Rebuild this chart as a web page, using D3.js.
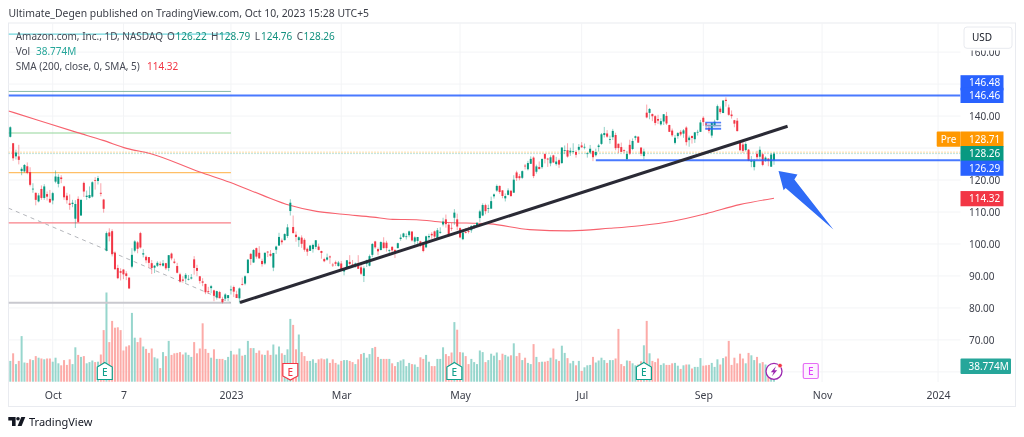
<!DOCTYPE html>
<html>
<head>
<meta charset="utf-8">
<script src="https://cdn.jsdelivr.net/npm/d3@7"></script>
<style>
  html, body { margin: 0; padding: 0; background: #fff; overflow: hidden; }
  svg { display: block; font-family: "Noto Sans", sans-serif; filter: blur(0.3px); }
</style>
</head>
<body>
<svg id="chart" width="1024" height="437"></svg>
<script>
// daily AMZN bars, 2022-09-12 to 2023-10-09
const opens = [
  133.5,131.5,127.4,127.4,122.8,122.7,124.3,122.5,117.1,116.0,
  113.3,117.2,114.4,115.6,114.1,113.6,119.5,118.8,120.8,118.0,
  115.1,112.7,112.5,107.9,114.1,108.9,119.1,114.7,114.4,114.8,
  120.0,119.7,116.0,113.9,97.9,103.6,104.0,97.3,92.5,91.5,
  92.0,90.8,89.5,92.9,97.9,100.5,103.4,96.7,96.0,95.9,
  94.0,92.6,93.2,93.8,93.2,94.0,92.5,97.0,94.5,93.1,
  90.5,88.9,89.2,88.9,89.2,95.2,92.5,89.9,88.3,87.5,
  85.3,86.2,85.5,83.25,84.97,82.8,82.9,83.1,85.5,86.55,
  84.3,83.0,87.5,87.6,90.9,96.9,94.2,98.7,97.25,94.7,
  93.9,97.6,96.9,92.6,98.2,99.5,101.1,101.2,102.5,110.3,
  105.3,102.9,101.2,102.0,101.3,98.5,97.85,98.4,99.1,99.2,
  97.8,95.3,95.1,96.1,93.55,94.3,93.1,93.9,91.4,92.7,
  94.4,93.6,93.6,93.7,92.7,90.0,93.8,93.2,96.6,100.8,
  98.4,98.1,100.45,100.4,98.07,99.1,98.1,98.7,101.55,102.2,
  102.3,102.75,103.9,100.75,100.96,100.8,100.4,98.95,102.07,103.16,
  103.95,101.6,103.5,106.1,107.7,106.05,105.04,108.2,107.7,104.95,
  101.5,103.74,104.04,104.27,105.04,105.6,108.1,108.9,112.16,111.15,
  111.05,114.9,116.7,118.16,116.77,114.27,115.35,116.63,116.04,122.37,
  121.2,120.69,124.5,123.36,125.07,127.01,122.58,124.08,124.02,128.12,
  126.7,125.21,127.71,124.97,126.21,125.31,129.11,129.33,128.63,128.94,
  128.77,129.47,130.82,130.24,128.25,128.59,129.07,127.75,130.31,131.3,
  134.06,134.56,132.71,133.39,134.07,131.34,130.31,129.31,126.51,131.0,
  129.69,133.2,133.55,130.15,127.48,141.06,140.99,140.62,139.97,139.07,
  137.4,138.3,140.05,137.19,135.46,131.62,133.74,135.08,134.5,136.4,
  132.47,133.78,132.76,134.93,135.06,139.46,137.73,136.32,133.9,136.86,
  138.75,142.32,140.95,145.08,142.69,140.48,138.7,138.55,131.94,131.11,
  129.36,129.5,125.76,124.04,128.2,127.28,128.06,126.06,126.71,124.16,126.22
];
const highs = [
  136.8,131.6,129.5,131.0,124.0,125.0,125.5,124.0,119.0,116.1,
  115.9,118.3,118.7,116.4,116.9,116.3,123.0,121.8,121.5,118.2,
  116.0,115.5,113.8,113.7,114.9,113.9,119.5,116.7,118.0,119.6,
  120.9,121.3,119.0,114.1,103.9,104.9,104.6,97.7,93.5,92.4,
  92.1,91.5,89.5,98.7,101.2,100.9,103.8,98.4,96.4,95.9,
  95.0,93.4,94.6,94.5,95.0,94.1,96.5,97.3,95.4,94.1,
  91.0,89.9,90.9,90.3,90.6,96.2,93.5,90.0,89.3,87.6,
  86.6,87.2,85.7,85.4,85.35,83.5,84.6,84.05,86.96,86.98,
  85.4,86.4,89.5,90.2,95.3,97.2,98.4,98.9,99.3,95.4,
  97.3,97.8,98.1,97.2,99.5,103.5,101.7,103.35,106.2,114.0,
  108.9,103.9,102.4,102.7,101.8,98.9,99.7,100.1,101.2,100.1,
  97.9,95.7,97.0,96.4,94.1,94.8,94.7,94.7,92.2,95.0,
  96.5,95.0,94.2,96.5,93.6,93.0,95.1,96.7,100.3,101.0,
  98.9,100.85,102.1,101.0,98.3,99.3,98.4,100.4,103.0,103.5,
  103.3,104.2,103.9,102.4,102.2,101.0,100.5,102.6,103.2,103.7,
  104.2,105.0,105.2,108.2,109.2,106.6,106.6,110.9,109.5,105.2,
  103.9,105.0,105.4,105.8,106.0,106.8,110.7,112.7,112.6,112.3,
  114.8,115.8,118.6,118.3,116.8,115.8,117.4,116.9,121.5,122.9,
  121.9,123.0,125.0,126.0,127.4,127.4,124.8,125.8,126.8,128.4,
  126.95,127.7,127.9,127.25,126.7,130.3,130.8,131.5,130.1,131.5,
  129.3,131.25,131.85,131.4,128.7,130.97,129.3,129.8,131.3,134.7,
  136.6,135.6,133.9,135.99,134.8,131.4,131.7,129.6,129.1,132.6,
  133.0,133.9,133.7,130.2,129.8,143.6,142.5,140.8,140.3,140.4,
  139.3,140.6,141.3,137.3,136.1,134.1,135.0,135.65,135.95,136.8,
  133.9,133.9,135.0,135.7,138.8,139.96,137.8,137.45,138.0,138.85,
  143.6,143.0,144.98,145.86,143.6,141.75,138.8,139.4,132.2,132.0,
  131.8,129.7,127.5,126.6,129.15,130.5,128.5,127.4,126.75,128.45,128.79
];
const lows = [
  133.3,126.0,126.4,124.9,121.5,122.3,121.8,118.0,116.0,112.1,
  113.0,113.8,113.8,113.6,112.8,112.4,119.0,117.7,119.0,113.8,
  112.6,110.7,111.5,105.0,106.6,108.8,114.7,113.8,114.2,114.5,
  117.0,118.6,114.9,109.8,97.7,100.8,96.1,92.0,89.0,88.6,
  89.0,88.7,85.9,92.4,97.4,97.1,98.6,95.8,94.0,92.5,
  90.6,90.9,92.8,93.0,92.9,91.9,91.5,94.9,93.8,90.8,
  87.9,87.9,87.9,88.6,88.9,90.4,89.9,87.6,86.8,84.3,
  84.4,84.6,82.1,82.6,83.0,81.4,82.4,82.1,84.2,83.4,
  83.1,81.4,87.0,87.1,90.8,93.4,94.1,95.4,95.4,92.9,
  93.5,95.9,96.0,91.5,96.9,99.5,99.8,101.1,101.9,108.9,
  103.3,100.7,99.1,98.8,97.6,96.3,97.8,97.3,98.4,98.0,
  95.4,94.3,94.8,93.8,92.8,93.1,92.9,91.7,90.2,92.3,
  93.4,92.8,92.6,92.2,90.3,88.1,92.8,93.0,95.9,98.5,
  96.5,98.0,98.6,97.6,96.3,97.2,95.6,98.6,101.0,101.9,
  101.4,102.1,100.75,99.8,99.6,99.0,97.4,98.7,101.1,101.6,
  101.5,101.5,103.2,105.5,105.1,102.2,104.1,106.0,104.3,101.8,
  101.2,103.3,103.3,103.5,104.7,105.6,106.8,108.7,109.3,109.7,
  111.0,114.2,116.3,115.7,114.3,113.3,115.2,114.7,116.0,119.7,
  119.9,120.3,123.3,123.0,125.0,120.6,122.0,123.3,123.5,125.2,
  124.1,124.3,125.3,124.5,123.8,125.0,128.1,127.0,127.55,128.4,
  127.0,128.95,130.1,129.6,127.0,128.1,125.9,127.35,128.9,131.0,
  133.3,133.2,131.35,132.5,129.3,128.4,128.8,128.5,126.1,127.8,
  129.3,132.4,131.6,127.5,126.4,139.3,139.0,138.4,137.1,137.5,
  137.0,137.2,137.2,135.0,133.5,131.15,132.9,133.7,133.2,130.8,
  130.4,131.4,131.6,133.9,135.0,136.9,135.8,134.6,133.2,136.8,
  138.6,140.6,140.9,142.95,140.1,139.2,136.5,135.2,129.0,128.5,
  128.9,125.9,124.0,123.0,126.3,126.5,124.3,125.7,124.3,124.1,124.76
];
const closes = [
  136.5,126.8,128.6,126.3,123.5,124.7,122.2,118.5,117.3,113.8,
  115.2,114.4,118.0,114.8,113.0,115.9,121.1,121.0,120.3,114.6,
  113.7,112.2,112.9,112.5,106.9,113.8,116.4,115.1,115.3,119.3,
  119.8,120.6,115.7,111.0,103.4,102.4,96.8,92.1,89.3,91.0,
  90.5,90.0,86.1,96.6,100.8,98.5,98.9,97.1,94.9,94.1,
  92.5,93.2,94.1,93.4,93.95,92.4,96.5,95.5,94.1,91.0,
  88.3,88.5,90.35,89.1,89.55,92.5,91.6,88.45,87.9,84.9,
  85.2,86.8,83.8,85.25,83.04,81.8,84.2,84.0,85.8,85.1,
  83.1,86.1,87.4,89.9,95.1,95.3,98.1,96.05,95.5,93.7,
  97.25,97.5,96.3,97.2,99.2,102.2,100.55,103.1,105.2,112.9,
  103.4,102.2,102.1,100.05,98.2,97.6,99.5,99.7,101.16,98.15,
  97.2,94.6,95.8,95.8,93.5,93.8,94.2,92.2,92.1,94.9,
  93.75,93.55,93.9,92.25,90.7,92.4,94.9,96.2,100.0,98.95,
  97.7,100.6,98.7,98.7,98.13,98.0,97.2,100.25,102.0,103.3,
  102.4,103.95,101.1,102.06,102.17,99.9,97.8,102.4,102.5,102.7,
  102.3,104.3,103.8,107.0,106.2,102.6,104.98,109.8,105.45,102.05,
  103.6,103.65,104.0,105.66,105.83,106.62,110.19,112.18,110.26,111.2,
  113.4,115.5,118.15,116.25,115.01,114.99,116.75,115.0,120.11,120.6,
  120.58,122.77,124.25,125.3,126.61,121.23,124.25,123.43,126.57,126.66,
  126.42,127.11,125.49,125.78,124.83,130.15,129.33,127.33,129.18,129.04,
  127.9,130.36,130.22,130.38,128.36,129.78,127.13,128.78,130.8,134.3,
  134.68,133.56,132.83,135.36,129.96,130.0,128.8,129.13,128.15,128.25,
  132.21,133.68,131.69,128.21,128.91,139.57,142.22,139.94,137.85,138.56,
  138.41,140.57,137.67,135.07,133.98,133.22,134.68,134.25,135.52,131.84,
  133.26,133.14,134.91,135.07,138.01,138.12,137.27,135.36,137.85,138.23,
  143.1,141.23,144.85,144.72,140.39,139.98,137.63,135.29,129.33,129.12,
  131.27,125.98,125.98,125.98,127.12,129.46,124.72,127.0,125.96,127.96,128.26
];
// volume in millions
const volumes = [
  52,71,44,52,114,48,47,56,54,64,
  60,58,56,58,58,50,60,46,41,54,
  42,56,44,86,67,62,64,46,49,53,
  49,50,68,129,223,99,152,135,136,129,
  78,88,91,172,110,99,110,88,82,72,
  83,61,58,34,74,64,102,67,71,72,
  74,68,73,67,62,99,71,83,146,82,
  72,60,81,57,57,57,54,62,77,68,
  68,83,65,67,102,84,84,72,78,68,
  67,78,67,93,68,88,71,67,81,157,
  142,81,118,74,64,52,52,56,47,56,
  58,56,58,47,56,47,43,52,54,54,
  52,49,44,56,69,72,60,69,84,87,
  62,57,57,57,57,46,39,49,53,56,
  39,47,44,43,37,61,57,67,50,39,
  39,57,57,86,69,64,73,149,130,74,
  73,64,44,57,49,44,78,74,49,54,
  70,65,73,54,70,67,63,66,96,64,
  72,54,60,47,44,94,62,49,50,50,
  52,60,83,56,52,90,72,59,46,52,
  41,52,27,36,41,42,62,48,53,60,
  54,47,54,54,58,132,44,39,53,52,
  46,41,43,51,91,152,71,52,49,58,
  42,46,42,42,46,47,40,32,41,43,
  43,33,37,37,59,40,41,42,47,37,
  56,43,59,63,102,42,60,46,70,58,
  46,72,66,54,62,46,49,43,39,40,38.774
];

// time axis, positions are bar numbers (the last two are in the future)
const timeTicks = [15, 40, 78, 117, 159, 202, 245, 287, 328];
const timeLabels = ["Oct", "7", "2023", "Mar", "May", "Jul", "Sep", "Nov", "2024"];
const priceTicks = [60, 70, 80, 90, 100, 110, 120, 130, 140, 150, 160];
const priceAxisShown = [70, 80, 90, 100, 110, 120, 140, 160];

// 200 day average, read as anchor points: bar number and price
const smaBars = [-0.6,9.8,23.5,32.8,41.1,49.4,67,77.6,89.3,98.8,108.3,117.6,128.2,135.2,143.6,152.9,169.5,183.6,197.8,211.9,222.5,234.2,246.1,257.8,270];
const smaPrices = [141.6,138.7,134.9,132.4,129.9,128.3,122.5,119.3,115.2,112.1,110.2,109.3,108.4,107.7,107.6,106.8,106.3,104.5,104.1,104.9,105.7,107.1,109.5,112.3,114.32];

// drawn levels that stop at the start of 2023
const shortLevels = [165.6, 147.7, 134.7, 122.3, 106.6, 81.6];
const shortLevelColors = ["#6fd6dc", "#86b8a8", "#93d59a", "#ffbf66", "#f98088", "#c9c9cf"];
const shortLevelWidths = [1.2, 1, 1.2, 1.4, 1.3, 2];

const earningsBars = [33.4, 99, 157, 224];
const earningsBeat = [true, false, true, true];

const arrowBars = [271.6, 278.3, 277.2, 291.0, 274.1, 273.4];
const arrowPrices = [122.8, 121.7, 120.2, 104.5, 117.5, 116.8];

const bars = closes.map((c, i) => ({
  i, o: opens[i], h: highs[i], l: lows[i], c, v: volumes[i], up: c >= opens[i],
}));

const GREEN = "#089981", RED = "#f23645", BLUE = "#2962ff", ORANGE = "#ff9800";
const chartLeft = 8.5, chartRight = 960.5, chartTop = 23, chartBottom = 382;

const x = d3.scaleLinear().domain([0, 270]).range([10.3, 774]);
const y = d3.scaleLinear().domain([60, 160]).range([371.9, 52.1]);
const yVol = d3.scaleLinear().domain([0, 223]).range([381.7, 292.5]);

const svg = d3.select("#chart");

svg.append("clipPath").attr("id", "plot")
  .append("rect")
  .attr("x", chartLeft).attr("y", chartTop)
  .attr("width", chartRight - chartLeft).attr("height", chartBottom - chartTop);

// outer frame
svg.append("rect")
  .attr("x", chartLeft).attr("y", chartTop)
  .attr("width", 1015.5 - chartLeft).attr("height", 406.5 - chartTop)
  .attr("fill", "none").attr("stroke", "#e9ebf0");

// grid
const grid = svg.append("g").attr("stroke", "#f3f4f6");
grid.selectAll("line.h").data(priceTicks).enter().append("line")
  .attr("x1", chartLeft).attr("x2", chartRight)
  .attr("y1", (d) => y(d)).attr("y2", (d) => y(d));
grid.selectAll("line.v").data(timeTicks).enter().append("line")
  .attr("x1", (d) => x(d)).attr("x2", (d) => x(d))
  .attr("y1", chartTop).attr("y2", chartBottom);

const plot = svg.append("g").attr("clip-path", "url(#plot)");

// volume
plot.append("g").selectAll("rect").data(bars).enter().append("rect")
  .attr("x", (d) => x(d.i) - 1)
  .attr("width", 2)
  .attr("y", (d) => yVol(d.v))
  .attr("height", (d) => yVol(0) - yVol(d.v))
  .attr("fill", (d) => (d.up ? "#97d6cd" : "#fcaba8"));

// short levels
plot.append("g").selectAll("line").data(shortLevels).enter().append("line")
  .attr("x1", chartLeft).attr("x2", x(78))
  .attr("y1", (d) => y(d)).attr("y2", (d) => y(d))
  .attr("stroke", (d, i) => shortLevelColors[i])
  .attr("stroke-width", (d, i) => shortLevelWidths[i]);

// dashed fall line
plot.append("line")
  .attr("x1", chartLeft).attr("y1", y(111.2))
  .attr("x2", x(78)).attr("y2", y(81.6))
  .attr("stroke", "#b4b6bb").attr("stroke-dasharray", "4 4");

// last price lines
plot.append("line")
  .attr("x1", chartLeft).attr("x2", chartRight)
  .attr("y1", y(128.71)).attr("y2", y(128.71))
  .attr("stroke", "#ffb84d").attr("stroke-dasharray", "1 2");
plot.append("line")
  .attr("x1", chartLeft).attr("x2", chartRight)
  .attr("y1", y(128.26)).attr("y2", y(128.26))
  .attr("stroke", "#7fc7b8").attr("stroke-dasharray", "1 2");

// sma
plot.append("path")
  .datum(smaBars.map((b, i) => [b, smaPrices[i]]))
  .attr("fill", "none")
  .attr("stroke", "#f7626e")
  .attr("stroke-width", 1.1)
  .attr("d", d3.line().x((d) => x(d[0])).y((d) => y(d[1])).curve(d3.curveMonotoneX));

// candles
const candles = plot.append("g").selectAll("g").data(bars).enter().append("g")
  .attr("fill", (d) => (d.up ? GREEN : RED))
  .attr("stroke", (d) => (d.up ? GREEN : RED));
candles.append("line")
  .attr("x1", (d) => x(d.i)).attr("x2", (d) => x(d.i))
  .attr("y1", (d) => y(d.h)).attr("y2", (d) => y(d.l))
  .attr("stroke-width", 0.6)
  .attr("stroke-opacity", 0.75);
candles.append("rect")
  .attr("x", (d) => x(d.i) - 1)
  .attr("width", 2)
  .attr("y", (d) => y(Math.max(d.o, d.c)))
  .attr("height", (d) => Math.max(0.8, Math.abs(y(d.o) - y(d.c))))
  .attr("stroke", "none");

// blue levels and the little fib box near the top
plot.append("line")
  .attr("x1", chartLeft).attr("x2", chartRight)
  .attr("y1", y(146.46)).attr("y2", y(146.46))
  .attr("stroke", BLUE).attr("stroke-opacity", 0.85).attr("stroke-width", 2);
plot.append("line")
  .attr("x1", x(207)).attr("x2", chartRight)
  .attr("y1", y(126.15)).attr("y2", y(126.15))
  .attr("stroke", BLUE).attr("stroke-opacity", 0.85).attr("stroke-width", 2);
[138, 136].forEach((p) => {
  plot.append("line")
    .attr("x1", x(245.7)).attr("x2", x(251.3))
    .attr("y1", y(p)).attr("y2", y(p))
    .attr("stroke", BLUE).attr("stroke-opacity", 0.8).attr("stroke-width", 1.6);
});
plot.append("rect")
  .attr("x", x(245.7)).attr("width", x(251.3) - x(245.7))
  .attr("y", y(138)).attr("height", y(136) - y(138))
  .attr("fill", BLUE).attr("fill-opacity", 0.18);
plot.append("line")
  .attr("x1", x(245.7)).attr("x2", x(251.3))
  .attr("y1", y(137)).attr("y2", y(137))
  .attr("stroke", "#7fa0c8").attr("stroke-width", 1.2);

// rising trend line
plot.append("line")
  .attr("x1", x(81.2)).attr("y1", y(81.7))
  .attr("x2", x(274.8)).attr("y2", y(136.8))
  .attr("stroke", "#2a2a35").attr("stroke-width", 3);

// blue arrow
plot.append("polygon")
  .attr("points", arrowBars.map((b, i) => `${x(b)},${y(arrowPrices[i])}`).join(" "))
  .attr("fill", "#2f6bf6");

// earnings flags
function flagPath(cx, top, down) {
  const p = d3.path();
  if (down) {
    p.moveTo(cx - 7.5, top); p.lineTo(cx + 7.5, top); p.lineTo(cx + 7.5, top + 12.5);
    p.lineTo(cx, top + 16.5); p.lineTo(cx - 7.5, top + 12.5);
  } else {
    p.moveTo(cx, top); p.lineTo(cx + 7.5, top + 4.5); p.lineTo(cx + 7.5, top + 17);
    p.lineTo(cx - 7.5, top + 17); p.lineTo(cx - 7.5, top + 4.5);
  }
  p.closePath();
  return p.toString();
}
const flags = svg.append("g").selectAll("g").data(earningsBars).enter().append("g");
flags.append("path")
  .attr("d", (d, i) => flagPath(x(d), earningsBeat[i] ? 362.5 : 363.5, !earningsBeat[i]))
  .attr("fill", "#fff")
  .attr("stroke", (d, i) => (earningsBeat[i] ? "#12a08c" : "#f23645"))
  .attr("stroke-width", 1.2);
flags.append("text")
  .attr("x", (d) => x(d)).attr("y", 375.5)
  .attr("text-anchor", "middle").attr("font-size", 10).attr("font-weight", 500)
  .attr("fill", (d, i) => (earningsBeat[i] ? "#12a08c" : "#f23645"))
  .text("E");

// upcoming earnings
svg.append("rect")
  .attr("x", x(283) - 7.5).attr("y", 363.5).attr("width", 15).attr("height", 15).attr("rx", 1.5)
  .attr("fill", "#fdf3ff").attr("stroke", "#e66cf5").attr("stroke-width", 1.2);
svg.append("text")
  .attr("x", x(283)).attr("y", 375)
  .attr("text-anchor", "middle").attr("font-size", 10).attr("font-weight", 500)
  .attr("fill", "#e040fb").text("E");

// lightning badge at the last bar
svg.append("circle")
  .attr("cx", x(270)).attr("cy", 371.3).attr("r", 8)
  .attr("fill", "#fff").attr("stroke", "#9c27b0").attr("stroke-width", 1.3);
svg.append("polygon")
  .attr("points", [[2, -5], [-3.2, 1], [-0.4, 1], [-2, 5], [3.2, -1], [0.4, -1]]
    .map((p) => `${x(270) + p[0]},${371.3 + p[1]}`).join(" "))
  .attr("fill", "#9c27b0");
svg.append("circle")
  .attr("cx", x(270) + 6).attr("cy", 365.6).attr("r", 2.2)
  .attr("fill", "#f23645").attr("stroke", "#fff").attr("stroke-width", 0.5);

// axes
const timeAxis = d3.axisBottom(x)
  .tickValues(timeTicks)
  .tickFormat((d, i) => timeLabels[i])
  .tickSize(0).tickPadding(0);
const timeG = svg.append("g").attr("transform", "translate(0,391)").call(timeAxis);
timeG.select(".domain").remove();
timeG.selectAll("text").attr("font-size", 10.5).attr("fill", "#3c3f4a")
  .attr("font-family", "'Noto Sans', sans-serif").attr("dy", "0.35em").attr("y", 4);

const priceAxis = d3.axisRight(y)
  .tickValues(priceAxisShown)
  .tickFormat(d3.format(".2f"))
  .tickSize(0).tickPadding(0);
const priceG = svg.append("g").attr("transform", "translate(969,0)").call(priceAxis);
priceG.select(".domain").remove();
priceG.selectAll("text").attr("font-size", 10).attr("fill", "#3c3f4a")
  .attr("font-family", "'Noto Sans', sans-serif");

// price labels: text, where the label sits as a price, colour
const priceLabels = [
  { text: "146.48", p: 150.4, color: BLUE },
  { text: "146.46", p: 146.46, color: BLUE },
  { text: "128.71", p: 132.8, color: ORANGE },
  { text: "128.26", p: 128.26, color: GREEN },
  { text: "126.29", p: 123.7, color: BLUE },
  { text: "114.32", p: 114.17, color: RED },
];
const labelG = svg.append("g").selectAll("g").data(priceLabels).enter().append("g");
labelG.append("rect")
  .attr("x", chartRight).attr("width", 43).attr("y", (d) => y(d.p) - 7.6).attr("height", 15.2)
  .attr("fill", (d) => d.color);
labelG.append("text")
  .attr("x", 969).attr("y", (d) => y(d.p)).attr("dy", "0.35em")
  .attr("font-size", 10).attr("fill", "#fff").text((d) => d.text);

svg.append("rect").attr("x", 936.7).attr("y", y(132.8) - 7.6).attr("width", 23.8).attr("height", 15.2)
  .attr("rx", 1).attr("fill", ORANGE);
svg.append("text").attr("x", 948.5).attr("y", y(132.8)).attr("dy", "0.35em")
  .attr("text-anchor", "middle").attr("font-size", 10).attr("fill", "#fff").text("Pre");

svg.append("rect").attr("x", chartRight).attr("y", 358.5).attr("width", 50.5).attr("height", 15.5)
  .attr("rx", 1).attr("fill", "#26a69a");
svg.append("text").attr("x", 968.5).attr("y", 366.3).attr("dy", "0.35em")
  .attr("font-size", 10).attr("fill", "#fff").text("38.774M");

// currency button, with a white margin that hides the top of the 160 label
svg.append("rect").attr("x", 962).attr("y", 25).attr("width", 52).attr("height", 25.5).attr("fill", "#fff");
svg.append("rect").attr("x", 964).attr("y", 27).attr("width", 48).attr("height", 21.3).attr("rx", 3)
  .attr("fill", "#fff").attr("stroke", "#e8eaef");
svg.append("text").attr("x", 972).attr("y", 37.8).attr("dy", "0.35em")
  .attr("font-size", 10).attr("fill", "#131722").text("USD");

// title and legend
svg.append("text").attr("x", 8.5).attr("y", 13).attr("dy", "0.35em")
  .attr("font-size", 10.4).attr("fill", "#3a3d46")
  .text("Ultimate_Degen published on TradingView.com, Oct 10, 2023 15:28 UTC+5");

function legendText(px, py, s, fill) {
  svg.append("text").attr("x", px).attr("y", py).attr("dy", "0.35em")
    .attr("font-size", 10).attr("fill", fill).text(s);
}
const INK = "#474a55", TEAL = "#12917f";
legendText(15.7, 36.5, "Amazon.com, Inc., 1D, NASDAQ", INK);
legendText(167, 36.5, "O", INK); legendText(175.5, 36.5, "126.22", TEAL);
legendText(211, 36.5, "H", INK); legendText(219, 36.5, "128.79", TEAL);
legendText(254.7, 36.5, "L", INK); legendText(261, 36.5, "124.76", TEAL);
legendText(296.7, 36.5, "C", INK); legendText(303.5, 36.5, "128.26", TEAL);
legendText(15.7, 51.5, "Vol", INK); legendText(36, 51.5, "38.774M", "#26a69a");
legendText(15.7, 66, "SMA (200, close, 0, SMA, 5)", INK); legendText(147, 66, "114.32", "#f23645");

// footer logo
const logoInk = "#131722";
svg.append("polygon").attr("points", "8.3,417 15.6,417 15.6,426 12,426 12,420.5 8.3,420.5").attr("fill", logoInk);
svg.append("circle").attr("cx", 18).attr("cy", 418.8).attr("r", 1.8).attr("fill", logoInk);
svg.append("polygon").attr("points", "21.3,417 25.3,417 21.6,426 17.6,426").attr("fill", logoInk);
svg.append("text").attr("x", 29).attr("y", 422).attr("dy", "0.35em")
  .attr("font-size", 11).attr("fill", "#131722").text("TradingView");
</script>
</body>
</html>
